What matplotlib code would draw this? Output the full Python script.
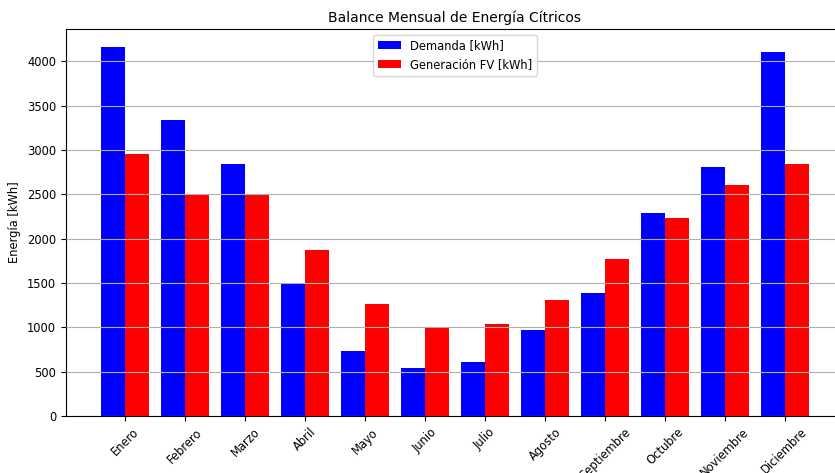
import numpy as np
import matplotlib
matplotlib.use("Agg")
import matplotlib.pyplot as plt

# Monthly energy balance data
meses = ["Enero", "Febrero", "Marzo", "Abril", "Mayo", "Junio",
         "Julio", "Agosto", "Septiembre", "Octubre", "Noviembre", "Diciembre"]
demanda = [4158, 3335, 2847, 1492, 735, 545, 612, 970, 1392, 2295, 2812, 4102]
generacion = [2960, 2508, 2508, 1876, 1266, 994, 1040, 1310, 1774, 2237, 2610, 2848]

# the reference looks like a scaled-down render, so fonts are a bit smaller
plt.rcParams["font.size"] = 8.3
plt.rcParams["axes.titlesize"] = 10

x = np.arange(len(meses))
ancho = 0.4

fig = plt.figure(figsize=(8.35, 4.73), dpi=100)
# the original image was cropped, so the axes run past the right edge
ax = fig.add_axes([66 / 835, 57 / 473, 778 / 835, 387 / 473])

ax.bar(x - ancho / 2, demanda, ancho, color="blue", label="Demanda [kWh]")
ax.bar(x + ancho / 2, generacion, ancho, color="red", label="Generación FV [kWh]")

ax.set_title("Balance Mensual de Energía Cítricos", pad=5)
ax.set_ylabel("Energía [kWh]")
ax.set_xticks(x)
ax.set_xticklabels(meses, rotation=45)
ax.legend(loc="upper center")
ax.grid(axis="y")
ax.set_axisbelow(False)

fig.savefig("out.png", dpi=100)
